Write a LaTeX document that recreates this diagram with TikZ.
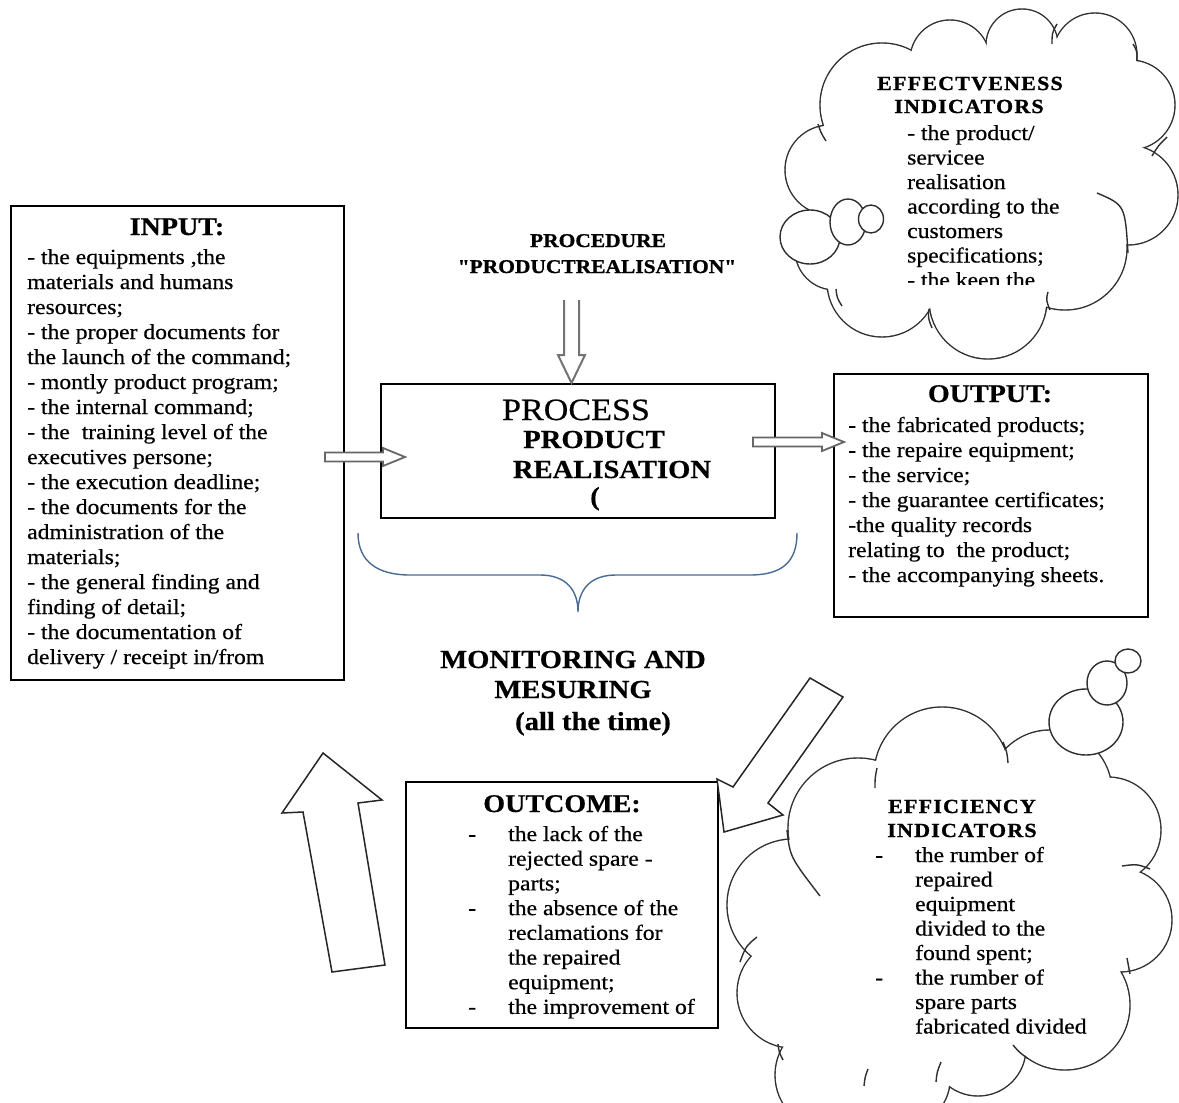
\documentclass[tikz,border=0pt]{standalone}
\usepackage{fontspec}
\setmainfont{Liberation Serif}[FakeStretch=1.1, FakeBold=0.5]
\newfontfamily\headfont{Liberation Serif Bold}[FakeStretch=1.1, LetterSpace=6, FakeBold=1]
\newfontfamily\procfont{Liberation Serif Bold}[FakeStretch=1.1, FakeBold=1]
\usetikzlibrary{calc}

% stacked text lines; the baseline of the block is the baseline of its first line
\newcommand\linesblock[1]{\vtop{\halign{##\hfil\cr#1\crcr}}}
\newcommand\itemdash{\hbox to 40pt{-\hfil}}
\newcommand\itemskip{\hskip 40pt}

% cloud outline = border of a union of circles
\newcommand\puffcloud[2]{%
  \foreach \px/\py/\pr in {#1}{\fill[cloudink] (\px,\py) circle[radius=\pr+0.7];}
  \foreach \px/\py/\pr in {#1}{\fill[white] (\px,\py) circle[radius=\pr-0.7];}
  \fill[white] #2;
}

% horizontal hollow block arrow between two named points
\newcommand\hblockarrow[2]{%
  \draw[blockarr] let \p1=(#1), \p2=(#2) in
    (\x1,\y1-4.5pt) -- (\x2-22pt,\y1-4.5pt) -- (\x2-22pt,\y1-9pt) -- (\x2,\y1)
    -- (\x2-22pt,\y1+9pt) -- (\x2-22pt,\y1+4.5pt) -- (\x1,\y1+4.5pt) -- cycle;}

\definecolor{cloudink}{HTML}{2E2E2E}
\definecolor{braceblue}{HTML}{4A6A94}

\begin{document}
\begin{tikzpicture}[x=1pt,y=-1pt,
  box/.style={draw=black, line width=1.6pt, fill=white, inner sep=0pt, anchor=north west},
  cloudink/.style={fill=cloudink},
  bubble/.style={fill=white, draw=cloudink, line width=1.4pt},
  tail/.style={draw=cloudink, line width=1.4pt},
  blockarr/.style={draw=black!60, fill=white, line width=1.8pt},
  bigarrow/.style={draw=black!85, fill=white, line width=1.5pt, line join=miter},
  dblarrow/.style={draw=black!55, line width=2pt},
  body/.style={font=\fontsize{21.5}{25}\selectfont, inner sep=0pt, anchor=base west},
  hdr/.style={font=\fontsize{25.5}{30}\selectfont\bfseries, inner sep=0pt, anchor=base},
  big/.style={font=\fontsize{26}{30}\selectfont\bfseries, inner sep=0pt, anchor=base},
  cloudhead/.style={font=\headfont\fontsize{20}{24}\selectfont, inner sep=0pt, anchor=base},
  prochead/.style={font=\procfont\fontsize{19.5}{24}\selectfont, inner sep=0pt, anchor=base}]

\useasboundingbox (0,0) rectangle (1179,1103);
\clip (0,0) rectangle (1179,1103);
\fill[white] (0,0) rectangle (1179,1103);

% ---------- effectiveness cloud (top right) ----------
\puffcloud{882/105/62, 950/60/40, 1022/45/36, 1095/55/42, 1130/105/45, 1128/195/50,
           1065/248/62, 988/300/59, 882/282/55, 835/250/40, 830/170/45}
          {(882,105) -- (950,60) -- (1022,45) -- (1095,55) -- (1130,105) -- (1128,195)
           -- (1065,248) -- (988,300) -- (882,282) -- (835,250) -- (830,170) -- cycle}
\draw[tail] (818,124) .. controls (821,133) .. (826,141);
\draw[tail] (1057,24) .. controls (1052,33) .. (1052,44);
\draw[tail] (1133,44) .. controls (1137,51) .. (1137,60);
\draw[tail] (1167,137) .. controls (1158,146) .. (1152,156);
\draw[tail] (1097,193) .. controls (1125,205) .. (1128,253);
\draw[tail] (1050,310) .. controls (1046,300) .. (1048,292);
\draw[tail] (932,328) .. controls (928,318) .. (929,309);
\draw[tail] (842,306) .. controls (837,298) .. (836,289);
\path[bubble] (810,237) ellipse[x radius=30, y radius=27];
\path[bubble] (848,222) ellipse[x radius=18, y radius=23];
\path[bubble] (871,219) ellipse[x radius=12.5, y radius=14];

% ---------- efficiency cloud (bottom right) ----------
\puffcloud{858/828/70, 942/775/68, 1050/792/62, 1108/830/53, 1120/920/52, 1065/1005/65,
           978/1048/48, 905/1080/45, 830/1075/55, 792/993/55, 793/905/66}
          {(858,828) -- (942,775) -- (1050,792) -- (1108,830) -- (1120,920) -- (1065,1005)
           -- (978,1048) -- (905,1080) -- (830,1075) -- (792,993) -- (793,905) -- cycle}
\draw[tail] (787,830) .. controls (790,857) .. (820,896);
\draw[tail] (877,768) .. controls (875,778) .. (875,788);
\draw[tail] (1003,742) .. controls (1007,752) .. (1008,763);
\draw[tail] (1150,869) .. controls (1137,864) .. (1122,866);
\draw[tail] (1130,974) .. controls (1128,966) .. (1127,958);
\draw[tail] (1027,1058) .. controls (1019,1052) .. (1013,1045);
\draw[tail] (936,1082) .. controls (937,1072) .. (941,1062);
\draw[tail] (864,1086) .. controls (865,1077) .. (868,1069);
\draw[tail] (783,1060) .. controls (779,1052) .. (778,1044);
\draw[tail] (740,962) .. controls (746,946) .. (757,937);
\path[bubble] (1086,722) ellipse[x radius=37, y radius=33];
\path[bubble] (1107,683) ellipse[x radius=20, y radius=22];
\path[bubble] (1128,661) ellipse[x radius=13, y radius=12];

% ---------- boxes ----------
\node[box, minimum width=333, minimum height=474] (inbox)  at (10,205) {};
\node[box, minimum width=394, minimum height=134] (proc)   at (380,383) {};
\node[box, minimum width=314, minimum height=243] (outbox) at (833,373) {};
\node[box, minimum width=312, minimum height=246] (ocbox)  at (405,781) {};

% ---------- arrows ----------
\coordinate (inarrow-start)  at (325,457);
\coordinate (inarrow-end)    at (405,457);
\coordinate (outarrow-start) at (753,442);
\coordinate (outarrow-end)   at (844,442);
\hblockarrow{inarrow-start}{inarrow-end}
\hblockarrow{outarrow-start}{outarrow-end}

% double-line arrow from the procedure into the process box
\coordinate (procarrow-tip) at (571.5,383);
\draw[dblarrow] (564,300) -- (564,355) -- (558,355) -- (procarrow-tip)
  -- (585,355) -- (579,355) -- (579,300);

% large feedback arrows
\draw[bigarrow] (323,753) -- (382,800) -- (358,803) -- (385,965) -- (332,972)
  -- (303,812) -- (282,813) -- cycle;
\draw[bigarrow] (724,832) -- (783,815) -- (768,803) -- (843,697) -- (810,678)
  -- (733,787) -- (717,779) -- cycle;

% brace under the process box
\draw[braceblue, line width=1.4pt] (358,533) .. controls (358,562) and (378,575) .. (410,575)
  -- (540,575) .. controls (566,575) and (578,590) .. (578,612)
  .. controls (578,590) and (590,575) .. (616,575) -- (750,575)
  .. controls (782,575) and (797,562) .. (797,533);

% ---------- texts ----------
\node[prochead] (procname1) at (598,247) {PROCEDURE};
\node[prochead] (procname2) at (597,273) {"PRODUCTREALISATION"};

\node[font=\fontsize{31}{36}\selectfont, inner sep=0pt, anchor=base] (ptitle1) at (576,420) {PROCESS};
\node[big] (ptitle2) at (594,448) {PRODUCT};
\node[big] (ptitle3) at (612,478) {REALISATION};
\node[big] (ptitle4) at (595,505) {(};

\node[hdr] (intitle) at (177,235) {INPUT:};
\node[body] (intext) at (27,264) {\linesblock{%
- the equipments ,the\cr
materials and humans\cr
resources;\cr
- the proper documents for\cr
the launch of the command;\cr
- montly product program;\cr
- the internal command;\cr
- the\ \ training level of the\cr
executives persone;\cr
- the execution deadline;\cr
- the documents for the\cr
administration of the\cr
materials;\cr
- the general finding and\cr
finding of detail;\cr
- the documentation of\cr
delivery / receipt in/from}};

\node[hdr] (outtitle) at (990,402) {OUTPUT:};
\node[body] (outtext) at (848,432) {\linesblock{%
- the fabricated products;\cr
- the repaire equipment;\cr
- the service;\cr
- the guarantee certificates;\cr
-the quality records\cr
relating to\ \ the product;\cr
- the accompanying sheets.}};

\node[big] (mon1) at (573,668) {MONITORING AND};
\node[big] (mon2) at (573,698) {MESURING};
\node[big] (mon3) at (593,730) {(all the time)};

\node[hdr] (octitle) at (562,812) {OUTCOME:};
\node[body, font=\fontsize{21.5}{24.7}\selectfont] (octext) at (468,841) {\linesblock{%
\itemdash the lack of the\cr
\itemskip rejected spare -\cr
\itemskip parts;\cr
\itemdash the absence of the\cr
\itemskip reclamations for\cr
\itemskip the repaired\cr
\itemskip equipment;\cr
\itemdash the improvement of}};

\node[cloudhead] (efftitle1) at (962,813) {EFFICIENCY};
\node[cloudhead] (efftitle2) at (962,837) {INDICATORS};
\node[body, font=\fontsize{21.5}{24.5}\selectfont] (efftext) at (875,862) {\linesblock{%
\itemdash the rumber of\cr
\itemskip repaired\cr
\itemskip equipment\cr
\itemskip divided to the\cr
\itemskip found spent;\cr
\itemdash the rumber of\cr
\itemskip spare parts\cr
\itemskip fabricated divided}};

\node[cloudhead] (etitle1) at (970,90) {EFFECTVENESS};
\node[cloudhead] (etitle2) at (969,113) {INDICATORS};
\begin{scope}
  \clip (880,60) rectangle (1100,284);
  \node[body, font=\fontsize{21.5}{24.5}\selectfont] (etext) at (907,140) {\linesblock{%
  - the product/\cr
  servicee\cr
  realisation\cr
  according to the\cr
  customers\cr
  specifications;\cr
  - the keen the}};
\end{scope}
\end{tikzpicture}
\end{document}
